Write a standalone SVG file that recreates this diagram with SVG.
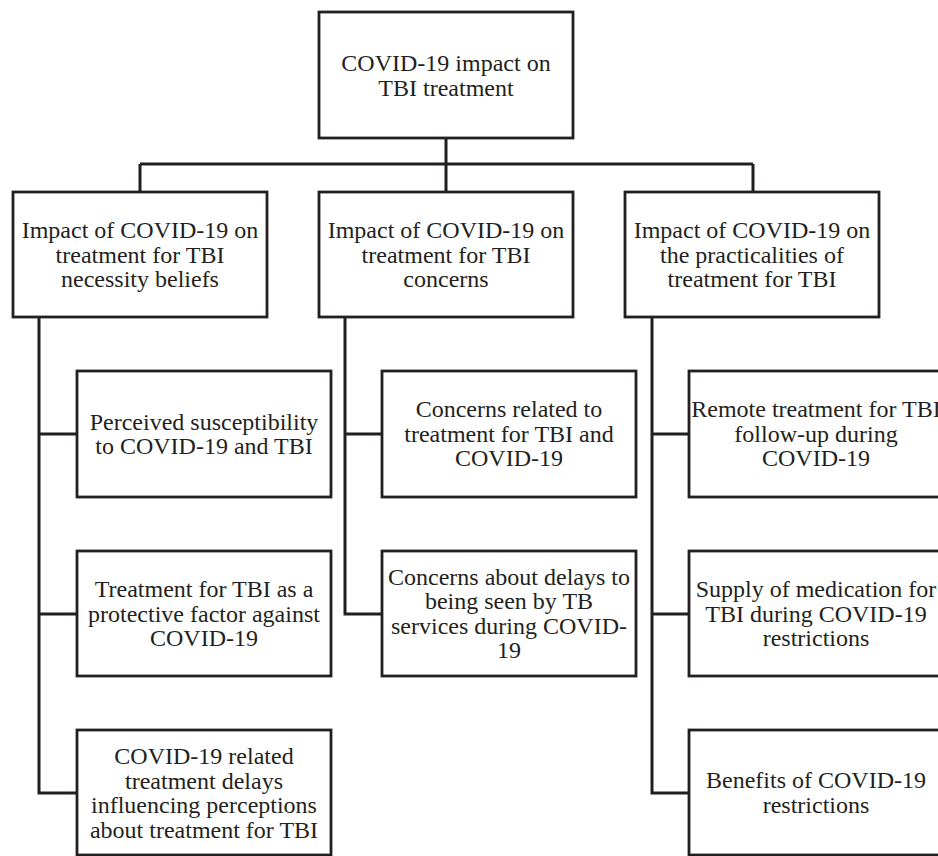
<svg xmlns="http://www.w3.org/2000/svg" width="938" height="856" viewBox="0 0 938 856">
<style>
.box{fill:#fff;stroke:#231f20;stroke-width:2.8}
.t{font-family:"Liberation Serif","Times New Roman",serif;font-size:24px;fill:#231f20;text-anchor:middle}
.c{fill:none;stroke:#231f20;stroke-width:3}
</style>
<rect width="938" height="856" fill="#fff"/>
<g id="connectors">
<path class="c" d="M446 138V192M140 164H753M140 164V192M753 164V192"/>
<path class="c" d="M39 317V793H77M39 434H77M39 614H77"/>
<path class="c" d="M345 317V614H382M345 434H382"/>
<path class="c" d="M652 317V793H689M652 434H689M652 614H689"/>
</g>
<g id="root"><rect class="box" x="319" y="12" width="254" height="126"/>
<text class="t" x="446"><tspan x="446" y="71">COVID-19 impact on</tspan><tspan x="446" y="96">TBI treatment</tspan></text></g>
<g id="necessity"><rect class="box" x="13" y="192" width="254" height="125"/>
<text class="t"><tspan x="140" y="238">Impact of COVID-19 on</tspan><tspan x="140" y="263">treatment for TBI</tspan><tspan x="140" y="287">necessity beliefs</tspan></text></g>
<g id="concerns"><rect class="box" x="319" y="192" width="254" height="125"/>
<text class="t"><tspan x="446" y="238">Impact of COVID-19 on</tspan><tspan x="446" y="263">treatment for TBI</tspan><tspan x="446" y="287">concerns</tspan></text></g>
<g id="practicalities"><rect class="box" x="625" y="192" width="254" height="125"/>
<text class="t"><tspan x="752" y="238">Impact of COVID-19 on</tspan><tspan x="752" y="263">the practicalities of</tspan><tspan x="752" y="287">treatment for TBI</tspan></text></g>
<g id="susceptibility"><rect class="box" x="77" y="371" width="254" height="126"/>
<text class="t"><tspan x="204" y="430">Perceived susceptibility</tspan><tspan x="204" y="454">to COVID-19 and TBI</tspan></text></g>
<g id="protective"><rect class="box" x="77" y="551" width="254" height="125"/>
<text class="t"><tspan x="204" y="597">Treatment for TBI as a</tspan><tspan x="204" y="622">protective factor against</tspan><tspan x="204" y="646">COVID-19</tspan></text></g>
<g id="delays-perceptions"><rect class="box" x="77" y="730" width="254" height="125"/>
<text class="t"><tspan x="204" y="764">COVID-19 related</tspan><tspan x="204" y="789">treatment delays</tspan><tspan x="204" y="813">influencing perceptions</tspan><tspan x="204" y="838">about treatment for TBI</tspan></text></g>
<g id="concerns-related"><rect class="box" x="382" y="371" width="254" height="126"/>
<text class="t"><tspan x="509" y="417">Concerns related to</tspan><tspan x="509" y="442">treatment for TBI and</tspan><tspan x="509" y="466">COVID-19</tspan></text></g>
<g id="concerns-delays"><rect class="box" x="382" y="551" width="254" height="125"/>
<text class="t"><tspan x="509" y="585">Concerns about delays to</tspan><tspan x="509" y="609">being seen by TB</tspan><tspan x="509" y="634">services during COVID-</tspan><tspan x="509" y="658">19</tspan></text></g>
<g id="remote"><rect class="box" x="689" y="371" width="254" height="126"/>
<text class="t"><tspan x="816" y="417">Remote treatment for TBI</tspan><tspan x="816" y="442">follow-up during</tspan><tspan x="816" y="466">COVID-19</tspan></text></g>
<g id="supply"><rect class="box" x="689" y="551" width="254" height="125"/>
<text class="t"><tspan x="816" y="597">Supply of medication for</tspan><tspan x="816" y="622">TBI during COVID-19</tspan><tspan x="816" y="646">restrictions</tspan></text></g>
<g id="benefits"><rect class="box" x="689" y="730" width="254" height="125"/>
<text class="t"><tspan x="816" y="788">Benefits of COVID-19</tspan><tspan x="816" y="813">restrictions</tspan></text></g>
</svg>
